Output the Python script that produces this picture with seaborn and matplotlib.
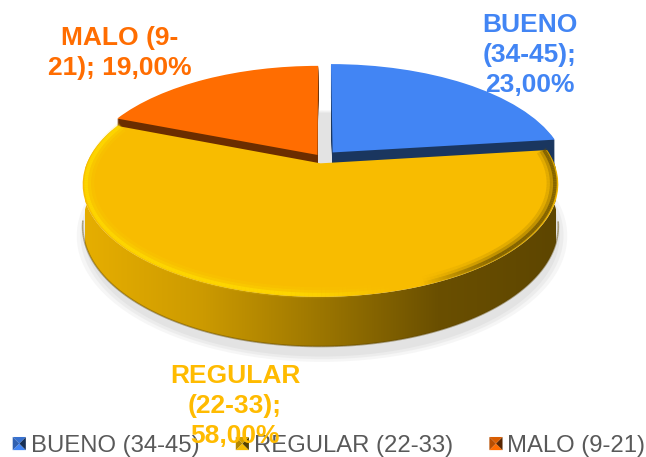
import numpy as np
import matplotlib
matplotlib.use("Agg")
import matplotlib.pyplot as plt
import seaborn as sns
from matplotlib.collections import LineCollection
from matplotlib.colors import LinearSegmentedColormap, to_rgb
from matplotlib.legend_handler import HandlerBase
from matplotlib.patches import PathPatch, Polygon
from matplotlib.path import Path
from matplotlib.transforms import Transform

categories = ["BUENO (34-45)", "REGULAR (22-33)", "MALO (9-21)"]
values = [23.0, 58.0, 19.0]
label_lines = ["BUENO\n(34-45);\n23,00%", "REGULAR\n(22-33);\n58,00%", "MALO (9-\n21); 19,00%"]

sns.set_theme(style="white")
plt.rcParams["font.family"] = ["Liberation Sans", "DejaVu Sans"]
palette = sns.color_palette(["#4285F4", "#F8BC00", "#FF6D01"])
text_colors = ["#4285F4", "#FFBB00", "#FF6D01"]
dark_colors = ["#1A365F", "#634A00", "#6B2D00"]
explode = [0.07, 0.05, 0.035]
label_pos = [(530, 55), (235, 406), (120, 53)]
CX, CY, A, B, K = 322.0, 158.0, 106.6, 231.5, 0.185
DEPTH = 40.0
SHADOW = 48.0


class Persp(Transform):
    """Tilted-disc projection of the unit pie plane to figure pixels."""
    input_dims = 2
    output_dims = 2
    is_separable = False

    def __init__(self, drop=0.0):
        super().__init__()
        self.drop = drop

    def transform_non_affine(self, values):
        v = np.asarray(values, float)
        w = 1 + K * v[:, 1]
        return np.column_stack([CX + B * v[:, 0] / w,
                                CY - A * v[:, 1] / w + self.drop / w])


fig = plt.figure(figsize=(6.46, 4.57), dpi=100)
ax = fig.add_axes([0, 0, 1, 1])


def draw_pie(vals, colors, drop, zorder, alpha=1.0, expl=None, radius=1.0):
    wedges, _ = ax.pie(vals, colors=colors, startangle=90, counterclock=False,
                       explode=expl, radius=radius, wedgeprops=dict(linewidth=0))
    for wd in wedges:
        wd.set_transform(Persp(drop) + ax.transData)
        wd.set_zorder(zorder)
        wd.set_alpha(alpha)
    return wedges


# soft shadow under the disc
for grow, alpha in zip([1.03, 1.015, 1.0], [0.3, 0.45, 0.9]):
    draw_pie([1], ["#E2E2E2"], SHADOW, 1, alpha, expl=[0.05], radius=grow)

# extruded walls of the two back slices
for d in np.arange(DEPTH, 0, -1.0):
    ws = draw_pie(values, dark_colors, d, 2, expl=explode)
    ws[1].set_visible(False)
ws = draw_pie(values, palette, 0, 3, expl=explode)
ws[1].set_visible(False)

# yellow wall with a horizontal gradient, clipped to the swept arc
fr = np.cumsum([0] + values) / sum(values)
ang = np.radians(np.linspace(fr[1], fr[2], 240) * 360)
mid = np.radians((fr[1] + fr[2]) * 180)
off = explode[1] * np.array([np.sin(mid), np.cos(mid)])
uv = np.column_stack([np.sin(ang) + off[0], np.cos(ang) + off[1]])
top_arc = Persp(0).transform(uv)
bot_arc = Persp(DEPTH).transform(uv)
verts = np.vstack([top_arc, bot_arc[::-1]])
clip = PathPatch(Path(verts), transform=ax.transData, fc="none", ec="none", zorder=4)
ax.add_patch(clip)
wall_cmap = LinearSegmentedColormap.from_list(
    "wall", [(0, "#E6AE00"), (0.25, "#CC9A00"), (0.5, "#9C7600"),
             (0.75, "#6A4F00"), (1, "#5E4600")])
im = ax.imshow(np.linspace(0, 1, 256)[None, :], cmap=wall_cmap, aspect="auto",
               extent=(85, 556, 352, 130), zorder=4)
im.set_clip_path(clip)

# yellow top face
ws = draw_pie(values, palette, 0, 5, expl=explode)
ws[0].set_visible(False)
ws[2].set_visible(False)


def rim(inset, lw, alpha_scale, zorder):
    c_uv = np.column_stack([np.sin(ang) * inset + off[0], np.cos(ang) * inset + off[1]])
    pts = Persp(0).transform(c_uv)
    segs = np.stack([pts[:-1], pts[1:]], axis=1)
    xm = np.clip((segs[:, 0, 0] - 85) / 471, 0, 1)
    hi = np.array(to_rgb("#FFDC00"))
    lo = np.array(to_rgb("#6A5000"))
    rgb = np.where((xm < 0.66)[:, None], hi, lo)
    fade_out = np.clip((0.66 - xm) / 0.22, 0, 1)
    fade_in = np.clip((xm - 0.72) / 0.16, 0, 1)
    a = np.maximum(fade_out, fade_in) * alpha_scale
    ax.add_collection(LineCollection(segs, colors=np.column_stack([rgb, a]),
                                     linewidths=lw, capstyle="butt", zorder=zorder))


rim(0.975, 8.0, 0.14, 6)
rim(0.980, 5.0, 0.28, 6)
rim(0.986, 2.5, 0.70, 7)

# darker bottom edge, only along the visible front of the wall
front = uv[:, 1] < -K
front_pts = bot_arc[front]
seg_b = np.stack([front_pts[:-1], front_pts[1:]], axis=1)
ax.add_collection(LineCollection(seg_b, colors="#5A4300", linewidths=1.2,
                                 alpha=0.45, zorder=6))

# data labels
for txt, col, (lx, ly) in zip(label_lines, text_colors, label_pos):
    ax.text(lx, ly, txt, color=col, fontsize=19, fontweight="bold", ha="center",
            va="center", linespacing=1.32, zorder=12)


class PyramidHandler(HandlerBase):
    def __init__(self, shades):
        super().__init__()
        self.shades = shades

    def create_artists(self, legend, orig_handle, xd, yd, width, height, fontsize, trans):
        size = min(width, height)
        x0, y0 = -xd, -yd + (height - size) / 2
        c = (x0 + size / 2, y0 + size / 2)
        p = [(x0, y0), (x0 + size, y0), (x0 + size, y0 + size), (x0, y0 + size)]
        out = []
        for i, col in enumerate(self.shades):
            out.append(Polygon([p[i], p[(i + 1) % 4], c], closed=True, fc=col, ec="none",
                               lw=0, transform=trans))
        return out


def shade(color):
    base = np.array(to_rgb(color))
    # bottom, right, top, left
    return [tuple(base * 1.0), tuple(base * 0.35), tuple(base * 0.85), tuple(base * 0.72)]


handles = [Polygon([(0, 0)], fc=c) for c in palette]
leg = ax.legend(handles, categories, ncol=3, frameon=False, fontsize=17.2,
                labelcolor="#595959", loc="center", bbox_to_anchor=(329 / 646, 1 - 446 / 457),
                bbox_transform=ax.transAxes, handlelength=0.55, handleheight=0.55,
                handletextpad=0.2, columnspacing=1.53, borderpad=0, borderaxespad=0,
                handler_map={h: PyramidHandler(shade(c)) for h, c in zip(handles, palette)})
leg.set_zorder(11)

ax.set_aspect("auto")
ax.set_xlim(0, 646)
ax.set_ylim(457, 0)
ax.axis("off")
sns.despine(ax=ax, left=True, bottom=True)
fig.savefig("out.png", dpi=100, facecolor="white")
